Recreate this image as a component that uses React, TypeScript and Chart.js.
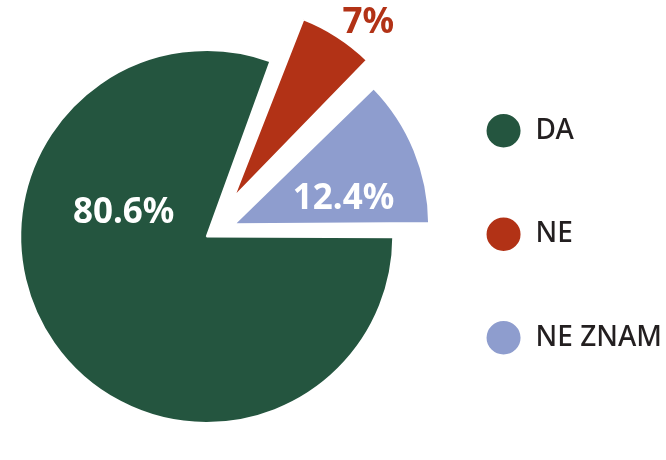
import React, { useEffect, useRef } from "react";
import { Chart, registerables } from "chart.js";

Chart.register(...registerables);

// ---- data ----
const categories = ["DA", "NE", "NE ZNAM"];
const values = [80.6, 7, 12.4];
const colors = ["#24553f", "#b23216", "#8e9dce"];

// ---- styles (per slice) ----
const sliceOffsets = [16, 176, 104]; // Chart.js offset option (translation = offset / 4)
const sliceRadii = [186.5, 191, 195]; // drawn outer radius of each slice
const labelAngleFrac = [0.675, 0.692, 0.71];
const labelRadiusFrac = [0.463, 1.153, 0.576];
const labelColors = ["#ffffff", "#b23216", "#ffffff"];

const FONT = '"Noto Sans", "DejaVu Sans", sans-serif';

const sliceRadiusPlugin = {
  id: "sliceRadius",
  afterDatasetsUpdate(chart: any) {
    const meta = chart.getDatasetMeta(0);
    meta.data.forEach((arc: any, i: number) => {
      const off = sliceOffsets[i] / 4;
      const fix = 1 - Math.sin(Math.min(Math.PI, arc.circumference || 0));
      arc.outerRadius = sliceRadii[i] - off * fix;
    });
  },
};

const sliceLabelPlugin = {
  id: "sliceLabels",
  afterDatasetsDraw(chart: any) {
    const ctx = chart.ctx;
    const meta = chart.getDatasetMeta(0);
    ctx.save();
    ctx.font = `bold 35px ${FONT}`;
    ctx.textAlign = "center";
    ctx.textBaseline = "middle";
    meta.data.forEach((arc: any, i: number) => {
      const { x, y, startAngle, endAngle } = arc;
      const half = (startAngle + endAngle) / 2;
      const off = sliceOffsets[i] / 4;
      const vx = x + Math.cos(half) * off;
      const vy = y + Math.sin(half) * off;
      const a = startAngle + labelAngleFrac[i] * (endAngle - startAngle);
      const r = sliceRadii[i] * labelRadiusFrac[i];
      ctx.fillStyle = labelColors[i];
      ctx.fillText(`${values[i]}%`, vx + Math.cos(a) * r, vy + Math.sin(a) * r);
    });
    ctx.restore();
  },
};

export default function App() {
  const canvasRef = useRef<HTMLCanvasElement | null>(null);

  useEffect(() => {
    if (!canvasRef.current) return;
    const chart = new Chart(canvasRef.current, {
      type: "pie",
      data: {
        labels: categories,
        datasets: [
          {
            data: values,
            backgroundColor: colors,
            borderColor: "#ffffff",
            borderWidth: 2,
            offset: sliceOffsets,
            hoverOffset: 0,
          },
        ],
      },
      options: {
        responsive: false,
        animation: false,
        devicePixelRatio: 1,
        rotation: 90,
        radius: 186,
        layout: { padding: { left: 10, right: -6, top: 8.4, bottom: 0 } },
        plugins: {
          tooltip: { enabled: false },
          legend: {
            position: "right",
            align: "center",
            labels: {
              usePointStyle: true,
              pointStyle: "circle",
              boxHeight: 25,
              pointStyleWidth: 36,
              padding: 75.5,
              color: "#231f20",
              font: { family: FONT, size: 28, weight: "500" },
            },
          },
        },
      },
      plugins: [sliceRadiusPlugin, sliceLabelPlugin],
    });
    return () => chart.destroy();
  }, []);

  return (
    <div style={{ position: "absolute", left: 0, top: 0, width: 666, height: 460, background: "#fff" }}>
      <canvas ref={canvasRef} width={666} height={460} style={{ display: "block" }} />
    </div>
  );
}
